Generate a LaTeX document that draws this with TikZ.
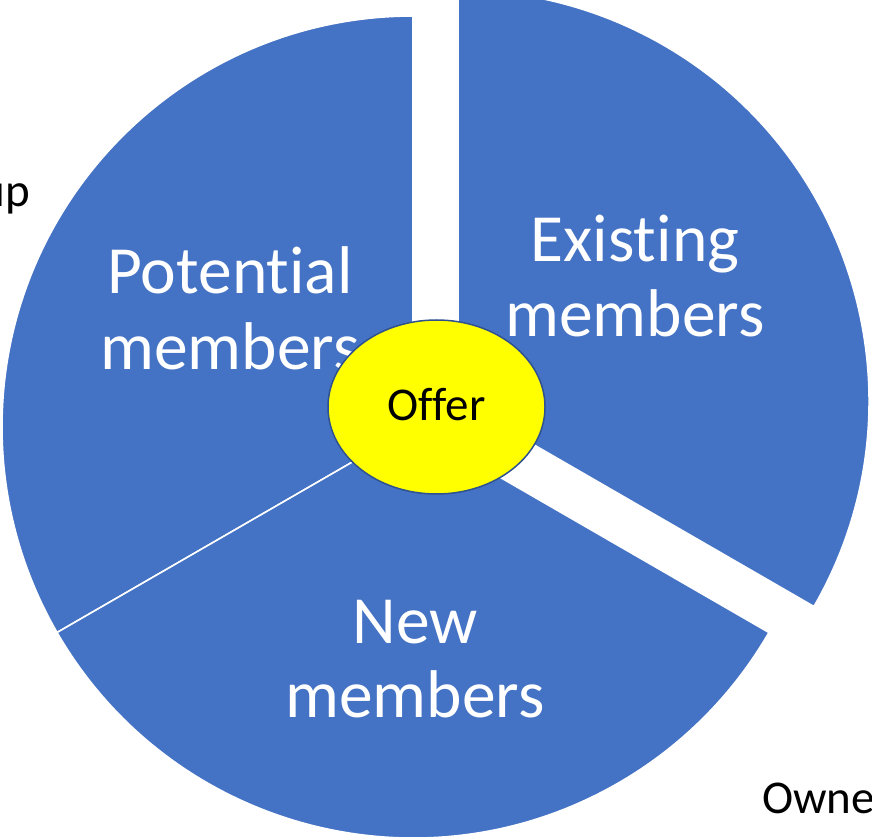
\documentclass[tikz,border=0pt]{standalone}
\usepackage{fontspec}
\setmainfont{Carlito}[RawFeature=-liga]
\usetikzlibrary{shapes.geometric}
\definecolor{sliceblue}{HTML}{4472C4}
\definecolor{rimblue}{HTML}{2F528F}
\definecolor{offeryellow}{HTML}{FFFF00}
\begin{document}
\begin{tikzpicture}[x=1pt,y=1pt,
  slice/.style={fill=sliceblue,draw=white,line width=1.6pt,line join=miter},
  biglabel/.style={text=white,anchor=base,inner sep=0pt,font=\fontsize{67.5}{75}\selectfont},
  smalllabel/.style={text=black,inner sep=0pt,font=\fontsize{47}{55}\selectfont}]
\useasboundingbox (0,0) rectangle (872,836);
\clip (0,0) rectangle (872,836);
% pie centre and the pulled-out apex of the upper-right slice
\coordinate (c) at (413,409);
\coordinate (e) at (458,435);
% the three slices
\draw[slice] (c) -- ++(90:411) arc[start angle=90,end angle=210,radius=411] -- cycle;
\draw[slice] (c) -- ++(210:411) arc[start angle=210,end angle=330,radius=411] -- cycle;
\draw[slice] (e) -- ++(-30:411) arc[start angle=-30,end angle=90,radius=411] -- cycle;
% slice labels
\node[biglabel] (pot1) at (230,542) {Potential};
\node[biglabel] (pot2) at (230,466) {members};
\node[biglabel] (ex1) at (635,574) {Existing};
\node[biglabel] (ex2) at (635,499) {members};
\node[biglabel] (new1) at (415,193) {New};
\node[biglabel] (new2) at (415,119) {members};
% centre ellipse
\node[ellipse,draw=rimblue,line width=1.5pt,fill=offeryellow,minimum width=217pt,minimum height=174pt,inner sep=0pt] (offer) at (436.5,429) {};
\node[smalllabel,anchor=base] (offertext) at (436.5,415) {Offer};
% edge labels running off the page
\node[smalllabel,anchor=base east] (grp) at (30,629) {up};
\node[smalllabel,anchor=base west] (own) at (762,23) {Owne};
\end{tikzpicture}
\end{document}
